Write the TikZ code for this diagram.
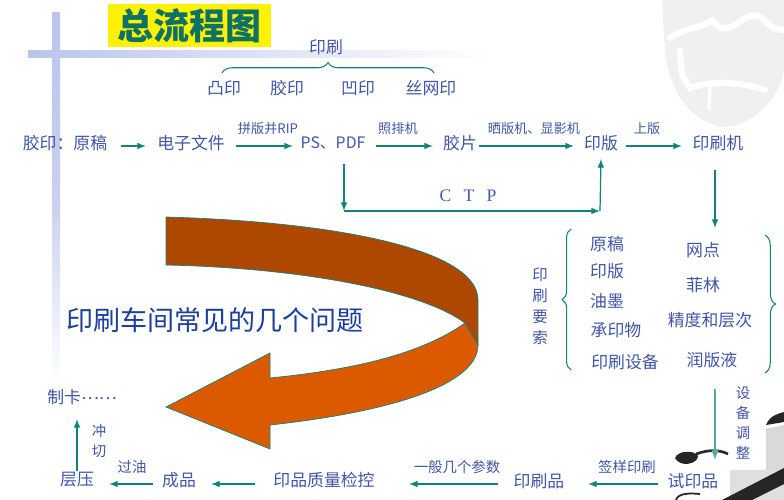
\documentclass[tikz,border=0pt]{standalone}
\usepackage{fontspec}
\newfontfamily\cjk{Noto Sans CJK SC}
\setmainfont{Liberation Serif}
\usetikzlibrary{decorations.pathreplacing}
\definecolor{tealline}{HTML}{0E8578}
\definecolor{txtblue}{HTML}{3F56A6}
\definecolor{darkblue}{HTML}{1C3F9E}
\definecolor{barblue}{HTML}{BAC5EC}
\definecolor{ribbondark}{HTML}{AE4700}
\definecolor{ribbonlight}{HTML}{DB5A00}
\definecolor{blotch}{HTML}{F0F0F0}
\tikzset{
  lbl/.style={text=txtblue,inner sep=0pt,font=\cjk\fontsize{9.6}{11}\selectfont},
  smalllbl/.style={text=txtblue,inner sep=0pt,font=\cjk\fontsize{7.5}{8}\selectfont},
  botlbl/.style={text=txtblue,inner sep=0pt,font=\cjk\fontsize{8.2}{9}\selectfont},
  midlbl/.style={text=txtblue,inner sep=0pt,font=\cjk\fontsize{8.8}{12}\selectfont,align=center},
  flow/.style={->,>=latex,tealline,line width=0.7pt},
  bracepath/.style={tealline,line width=0.6pt,decorate},
}
\begin{document}
\begin{tikzpicture}[x=0.02cm,y=-0.02cm]
\useasboundingbox (0,0) rectangle (784,500);

% backdrop
\fill[left color=barblue,right color=white] (28,51) rectangle (490,58);
\fill[top color=barblue,bottom color=white,middle color=barblue!80] (52,13) rectangle (60,385);
\fill[blotch] (662,0) -- (784,0) -- (784,70) .. controls (780,100) and (750,128) .. (720,127)
  .. controls (690,120) and (668,90) .. (665,50) -- cycle;
\draw[white,line width=3.5pt,line cap=round] (670,38) .. controls (690,25) and (700,30) .. (712,20);
\draw[white,line width=3.5pt,line cap=round] (712,20) .. controls (730,45) and (745,5) .. (762,18) .. controls (770,28) and (778,30) .. (784,30);
\draw[white,line width=3.5pt,line cap=round] (680,50) -- (682,75) -- (690,88) .. controls (720,78) and (750,85) .. (765,90);
\draw[white,line width=2pt] (710,85) -- (709,110);

% press photo
\fill[gray!30] (760,430) -- (784,425) -- (784,470) -- (760,470) -- cycle;
\fill[gray!25] (730,470) rectangle (784,500);
\fill[black!85] (722,500) -- (784,468) -- (784,484) -- (752,500) -- cycle;
\fill[black!85] (766,425) .. controls (770,415) and (778,414) .. (784,412) -- (784,422) -- cycle;
\fill[black!85] (675,458) .. controls (678,450) and (695,450) .. (698,456) .. controls (698,464) and (680,468) .. (675,458) -- cycle;
\draw[black!85,line width=1.5pt] (696,454) .. controls (710,449) and (720,450) .. (728,454);
\draw[black!85,line width=1pt] (676,500) .. controls (678,493) and (690,493) .. (700,494);
\fill[white] (735,385) rectangle (766,470);
\fill[white] (658,470) rectangle (730,492);

% title
\node (title) [fill=yellow,minimum width=3.26cm,minimum height=0.86cm,inner sep=0pt,text=tealline!85!black,font=\cjk\bfseries\fontsize{20.5}{22}\selectfont] at (189.5,25.5) {总流程图};

% ribbon
\draw[tealline,line width=0.4pt,fill=ribbondark] (166,217) .. controls (340,222) and (478,250) .. (478,300)
  -- (478,345) -- (465,323) .. controls (420,290) and (300,268) .. (166,265) -- cycle;
\draw[tealline,line width=0.4pt,fill=ribbonlight] (465,323) .. controls (420,355) and (350,370) .. (270,378)
  -- (270,353) -- (166,407) -- (270,449) -- (270,425) .. controls (390,412) and (478,385) .. (478,345) -- cycle;
\node (problems) [text=darkblue,inner sep=0pt,font=\cjk\fontsize{15.4}{18}\selectfont] at (215,320) {印刷车间常见的几个问题};

% upper row
\draw (326,47) node (print) [lbl] {印刷};
\draw (224,88) node (letter) [lbl] {凸印};
\draw (287,88) node (offset) [lbl] {胶印};
\draw (358,88) node (gravure) [lbl] {凹印};
\draw (431,88) node (screen) [lbl] {丝网印};
\draw[bracepath,decoration={brace,amplitude=6pt}] (222,73) -- (434,73);

\draw (65,143) node (source) [lbl] {胶印：原稿};
\draw (191,143) node (efile) [lbl] {电子文件};
\draw (333,143) node (pdf) [lbl,font=\cjk\fontsize{9}{11}\selectfont] {PS、PDF};
\draw (460,143) node (film) [lbl] {胶片};
\draw (601,143) node (plate) [lbl] {印版};
\draw (718,143) node (press) [lbl] {印刷机};
\draw (268,129) node (ripl) [smalllbl] {拼版并RIP};
\draw (398,129) node (setl) [smalllbl] {照排机};
\draw (534,129) node (devl) [smalllbl] {晒版机、显影机};
\draw (647,129) node (mountl) [smalllbl] {上版};
\draw [flow] (121,146) -- (146,146);
\draw [flow] (236,146) -- (293,146);
\draw [flow] (376,146) -- (433,146);
\draw [flow] (479,146) -- (574,146);
\draw [flow] (626,146) -- (682,146);

% ctp branch
\coordinate (ctpa) at (344,211);
\coordinate (ctpb) at (600,211);
\draw [flow] (344,164) -- (ctpa);
\draw [flow] (ctpa) -- (ctpb);
\draw [flow] (ctpb) -- (plate.south |- 0,159);
\draw (468,196) node (ctp) [text=darkblue!85,inner sep=0pt,font=\fontsize{10}{12}\selectfont] {C\hspace{0.7em}T\hspace{0.7em}P};

% elements
\draw [flow] (715,170) -- (715,228);
\draw (540,306) node (elem) [midlbl] {印\\刷\\要\\索};
\draw[bracepath,decoration={brace,amplitude=5pt}] (571,370) -- (571,229);
\draw[bracepath,decoration={brace,amplitude=6pt}] (765,235) -- (765,373);
\draw (607,244) node (e1) [lbl] {原稿};
\draw (607,271) node (e2) [lbl] {印版};
\draw (607,301) node (e3) [lbl] {油墨};
\draw (616,330) node (e4) [lbl] {承印物};
\draw (625,362) node (e5) [lbl] {印刷设备};
\draw (703,250) node (f1) [lbl] {网点};
\draw (703,285) node (f2) [lbl] {菲林};
\draw (710,320) node (f3) [lbl] {精度和层次};
\draw (712,360) node (f4) [lbl] {润版液};

% lower row
\draw [->,>=latex,tealline!70,line width=1pt] (715,389) -- (715,460);
\draw (743,423) node (adj) [midlbl,font=\cjk\fontsize{8.2}{11.4}\selectfont] {设\\备\\调\\整};
\draw (693,481) node (trial) [lbl] {试印品};
\draw (539,481) node (sheet) [lbl] {印刷品};
\draw (324,480) node (qc) [lbl] {印品质量检控};
\draw (179,480) node (goods) [lbl] {成品};
\draw (77,480) node (lam) [lbl] {层压};
\draw (82,397) node (card) [lbl] {制卡\raisebox{2pt}{……}};
\draw (627,467) node (signl) [botlbl] {签样印刷};
\draw (457,467) node (parl) [botlbl] {一般几个参数};
\draw (132,467) node (varl) [botlbl] {过油};
\draw (99,441) node (cutl) [midlbl,font=\cjk\fontsize{8.2}{11}\selectfont] {冲\\切};
\draw [flow] (658,484) -- (588,484);
\draw [flow] (498,484) -- (409,484);
\draw [flow] (255,484) -- (211,484);
\draw [flow] (153,484) -- (109,484);
\draw [flow] (lam.north) ++(0,-1) -- (77,419);
\end{tikzpicture}
\end{document}
